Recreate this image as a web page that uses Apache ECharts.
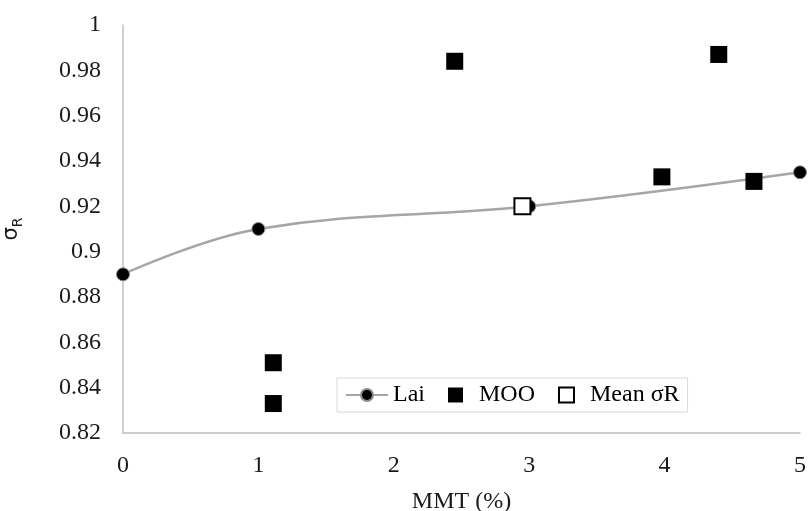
<!DOCTYPE html>
<html>
<head>
<meta charset="utf-8">
<script src="https://cdn.jsdelivr.net/npm/echarts@6/dist/echarts.min.js"></script>
<style>
  html, body { margin: 0; padding: 0; background: #fff; }
  #chart { width: 808px; height: 511px; }
</style>
</head>
<body>
<div id="chart"></div>
<script>
// Lai curve
const laiX = [0, 1, 3, 5];
const laiY = [0.89, 0.91, 0.92, 0.935];

// MOO points
const mooX = [1.11, 1.11, 2.45, 3.98, 4.40, 4.66];
const mooY = [0.851, 0.833, 0.984, 0.933, 0.987, 0.931];

// Mean sigma R
const meanX = [2.95];
const meanY = [0.92];

const serif = 'Liberation Serif';
// square icon sitting inside a 42x15 legend slot
const squareIcon = 'path://M0,7.5L0,7.5M16,0L31,0L31,15L16,15ZM42,7.5L42,7.5';

function pairs(xs, ys) {
  return xs.map((x, i) => [x, ys[i]]);
}

const chart = echarts.init(document.getElementById('chart'));
chart.setOption({
  animation: false,
  backgroundColor: '#fff',
  grid: { left: 123, right: 8, top: 25, bottom: 78, outerBoundsMode: 'none' },
  legend: {
    left: 337,
    top: 378,
    padding: [5, 8, 5, 8],
    itemGap: 7,
    itemWidth: 42,
    itemHeight: 15,
    borderColor: '#d9d9d9',
    borderWidth: 1,
    textStyle: { fontFamily: serif, fontSize: 24, color: '#000' },
    data: [
      { name: 'Lai' },
      { name: 'MOO', icon: squareIcon },
      { name: 'Mean σR', icon: squareIcon }
    ]
  },
  xAxis: {
    type: 'value',
    min: 0,
    max: 5,
    interval: 1,
    name: 'MMT (%)',
    nameLocation: 'middle',
    nameGap: 57,
    nameTextStyle: { fontFamily: serif, fontSize: 24, color: '#1a1a1a' },
    axisLine: { show: true, lineStyle: { color: '#bfbfbf', width: 1.5 } },
    axisTick: { show: false },
    splitLine: { show: false },
    axisLabel: { fontFamily: serif, fontSize: 24, color: '#1a1a1a', margin: 21 }
  },
  yAxis: {
    type: 'value',
    min: 0.82,
    max: 1,
    interval: 0.02,
    name: 'σ{sub|R}',
    nameLocation: 'middle',
    nameRotate: 90,
    nameGap: 98,
    nameTextStyle: {
      fontFamily: 'DejaVu Sans',
      fontSize: 21,
      color: '#1a1a1a',
      rich: {
        sub: { fontFamily: 'DejaVu Sans', fontSize: 14, color: '#1a1a1a', padding: [12, 0, 0, 0] }
      }
    },
    axisLine: { show: true, lineStyle: { color: '#bfbfbf', width: 1.5 } },
    axisTick: { show: false },
    splitLine: { show: false },
    axisLabel: { fontFamily: serif, fontSize: 24, color: '#1a1a1a', margin: 22 }
  },
  series: [
    {
      name: 'Lai',
      type: 'line',
      smooth: 0.4,
      data: pairs(laiX, laiY),
      symbol: 'circle',
      symbolSize: 13,
      lineStyle: { color: '#a6a6a6', width: 2.5 },
      itemStyle: { color: '#000', borderColor: '#8c8c8c', borderWidth: 1 },
      z: 2
    },
    {
      name: 'MOO',
      type: 'scatter',
      symbol: 'rect',
      symbolSize: 17,
      data: pairs(mooX, mooY),
      itemStyle: { color: '#000', opacity: 1 },
      z: 3
    },
    {
      name: 'Mean σR',
      type: 'scatter',
      symbol: 'rect',
      symbolSize: 16,
      data: pairs(meanX, meanY),
      itemStyle: { color: '#fff', borderColor: '#000', borderWidth: 2, opacity: 1 },
      z: 4
    }
  ]
});
</script>
</body>
</html>
